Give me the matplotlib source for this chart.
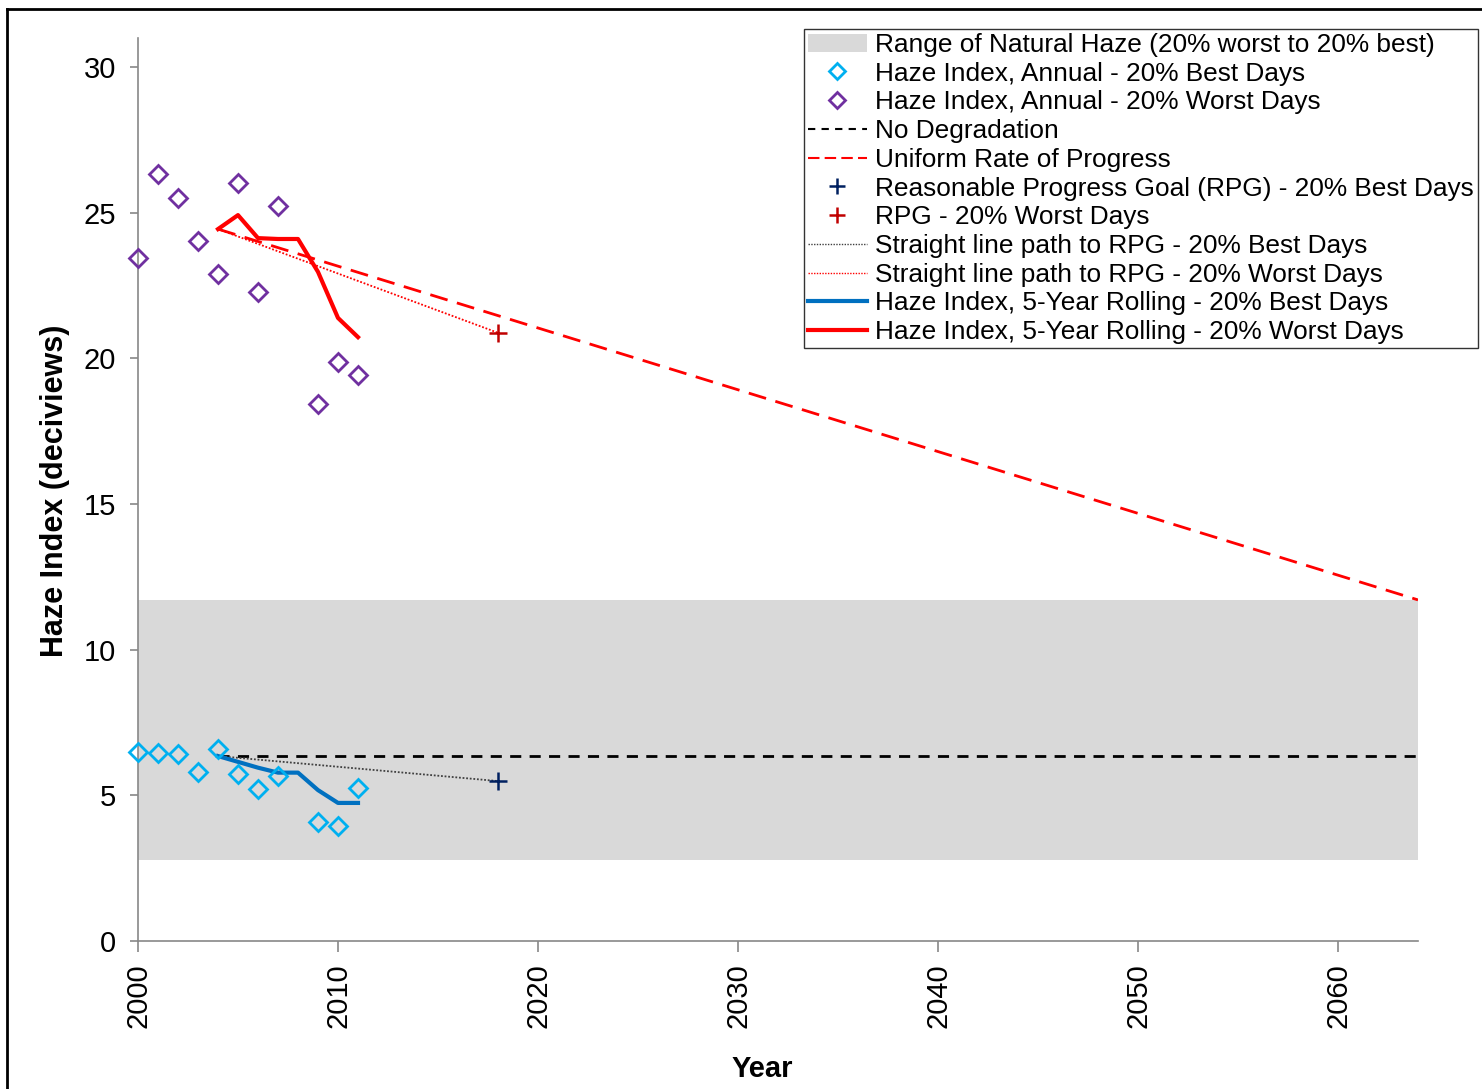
import matplotlib
matplotlib.use("Agg")
import matplotlib.pyplot as plt
from matplotlib.patches import Patch
from matplotlib.lines import Line2D

plt.rcParams['font.family'] = ['Liberation Sans', 'DejaVu Sans']

# ---- data ----
years_annual = [2000, 2001, 2002, 2003, 2004, 2005, 2006, 2007, 2009, 2010, 2011]
best_annual = [6.49, 6.45, 6.42, 5.80, 6.59, 5.73, 5.22, 5.66, 4.09, 3.95, 5.25]
worst_annual = [23.45, 26.33, 25.51, 24.03, 22.90, 26.02, 22.28, 25.23, 18.43, 19.88, 19.43]

years_rolling = [2004, 2005, 2006, 2007, 2008, 2009, 2010, 2011]
best_rolling = [6.35, 6.15, 5.95, 5.78, 5.78, 5.18, 4.74, 4.74]
worst_rolling = [24.44, 24.92, 24.13, 24.10, 24.10, 22.97, 21.39, 20.73]

natural_years = [2000, 2064]
natural_low = [2.78, 2.78]
natural_high = [11.71, 11.71]

no_deg_years = [2004, 2064]
no_deg_values = [6.36, 6.36]

urp_years = [2004, 2064]
urp_values = [24.44, 11.71]

rpg_year = [2018]
rpg_best = [5.49]
rpg_worst = [20.88]

path_years = [2004, 2018]
path_best = [6.35, 5.49]
path_worst = [24.44, 20.88]

xticks = [2000, 2010, 2020, 2030, 2040, 2050, 2060]
yticks = [0, 5, 10, 15, 20, 25, 30]

# ---- figure ----
W, H = 1482, 1089
fig = plt.figure(figsize=(W / 100, H / 100), dpi=100)
ax = fig.add_axes([138 / W, 1 - 941 / H, (1418 - 138) / W, (941 - 38) / H])

gray = '#888888'

ax.fill_between(natural_years, natural_low, natural_high, color='#D9D9D9', lw=0, zorder=1)
ax.plot(no_deg_years, no_deg_values, color='black', lw=2, dashes=(4, 3), zorder=2)
ax.plot(urp_years, urp_values, color='#FF0000', lw=2, dashes=(6.5, 3.5), zorder=2)
ax.plot(path_years, path_best, color='#404040', lw=1.3, ls=(0, (1, 1)), zorder=3)
ax.plot(path_years, path_worst, color='#FF0000', lw=1.3, ls=(0, (1, 1)), zorder=3)
ax.plot(years_rolling, best_rolling, color='#0070C0', lw=3, zorder=4)
ax.plot(years_rolling, worst_rolling, color='#FF0000', lw=3, zorder=4)
ax.plot(years_annual, best_annual, ls='none', marker='D', ms=9, mfc='none',
        mec='#00B0F0', mew=2, zorder=5, clip_on=False)
ax.plot(years_annual, worst_annual, ls='none', marker='D', ms=9, mfc='none',
        mec='#7030A0', mew=2, zorder=5, clip_on=False)
ax.plot(rpg_year, rpg_best, ls='none', marker='+', ms=13, mew=1.8, color='#002060', zorder=6)
ax.plot(rpg_year, rpg_worst, ls='none', marker='+', ms=13, mew=1.8, color='#C00000', zorder=6)

ax.set_xlim(2000, 2064)
ax.set_ylim(0, 31)
ax.set_xticks(xticks)
ax.set_xticklabels([str(t) for t in xticks], rotation=90)
ax.set_yticks(yticks)
ax.tick_params(axis='both', labelsize=21, colors=gray, labelcolor='black', width=1.2)
ax.tick_params(axis='x', length=8, pad=8)
ax.tick_params(axis='y', length=6, pad=10)
for s in ['top', 'right']:
    ax.spines[s].set_visible(False)
for s in ['left', 'bottom']:
    ax.spines[s].set_color(gray)
    ax.spines[s].set_linewidth(1.2)

fig.text(55 / W, 1 - 491 / H, 'Haze Index (deciviews)', rotation=90, ha='center', va='center',
         fontsize=22, fontweight='bold')
fig.text(762 / W, 1 - 1069 / H, 'Year', ha='center', va='center', fontsize=21, fontweight='bold')

handles = [
    Patch(facecolor='#D9D9D9', edgecolor='none'),
    Line2D([], [], ls='none', marker='D', ms=8, mfc='none', mec='#00B0F0', mew=2),
    Line2D([], [], ls='none', marker='D', ms=8, mfc='none', mec='#7030A0', mew=2),
    Line2D([], [], color='black', lw=1.5, dashes=(3.5, 3)),
    Line2D([], [], color='#FF0000', lw=1.5, dashes=(5.5, 2.5)),
    Line2D([], [], ls='none', marker='+', ms=12, mew=1.8, color='#002060'),
    Line2D([], [], ls='none', marker='+', ms=12, mew=1.8, color='#C00000'),
    Line2D([], [], color='#404040', lw=1, ls=(0, (1, 1))),
    Line2D([], [], color='#FF0000', lw=1, ls=(0, (1, 1))),
    Line2D([], [], color='#0070C0', lw=3),
    Line2D([], [], color='#FF0000', lw=3),
]
labels = [
    'Range of Natural Haze (20% worst to 20% best)',
    'Haze Index, Annual - 20% Best Days',
    'Haze Index, Annual - 20% Worst Days',
    'No Degradation',
    'Uniform Rate of Progress',
    'Reasonable Progress Goal (RPG) - 20% Best Days',
    'RPG - 20% Worst Days',
    'Straight line path to RPG - 20% Best Days',
    'Straight line path to RPG - 20% Worst Days',
    'Haze Index, 5-Year Rolling - 20% Best Days',
    'Haze Index, 5-Year Rolling - 20% Worst Days',
]
leg = fig.legend(handles, labels, loc='upper left', bbox_to_anchor=(804 / W, 1 - 29 / H),
                 fontsize=18.9, frameon=True, fancybox=False, edgecolor='black',
                 borderpad=0.15, handlelength=2.25, handletextpad=0.3, labelspacing=0.18,
                 borderaxespad=0)
leg.get_frame().set_linewidth(1.0)

# outer frame
fig.add_artist(Line2D([7 / W, 7 / W], [0, 1 - 9 / H], color='black', lw=2, transform=fig.transFigure))
fig.add_artist(Line2D([7 / W, 1], [1 - 9 / H, 1 - 9 / H], color='black', lw=2, transform=fig.transFigure))

fig.savefig('out.png', dpi=100)
